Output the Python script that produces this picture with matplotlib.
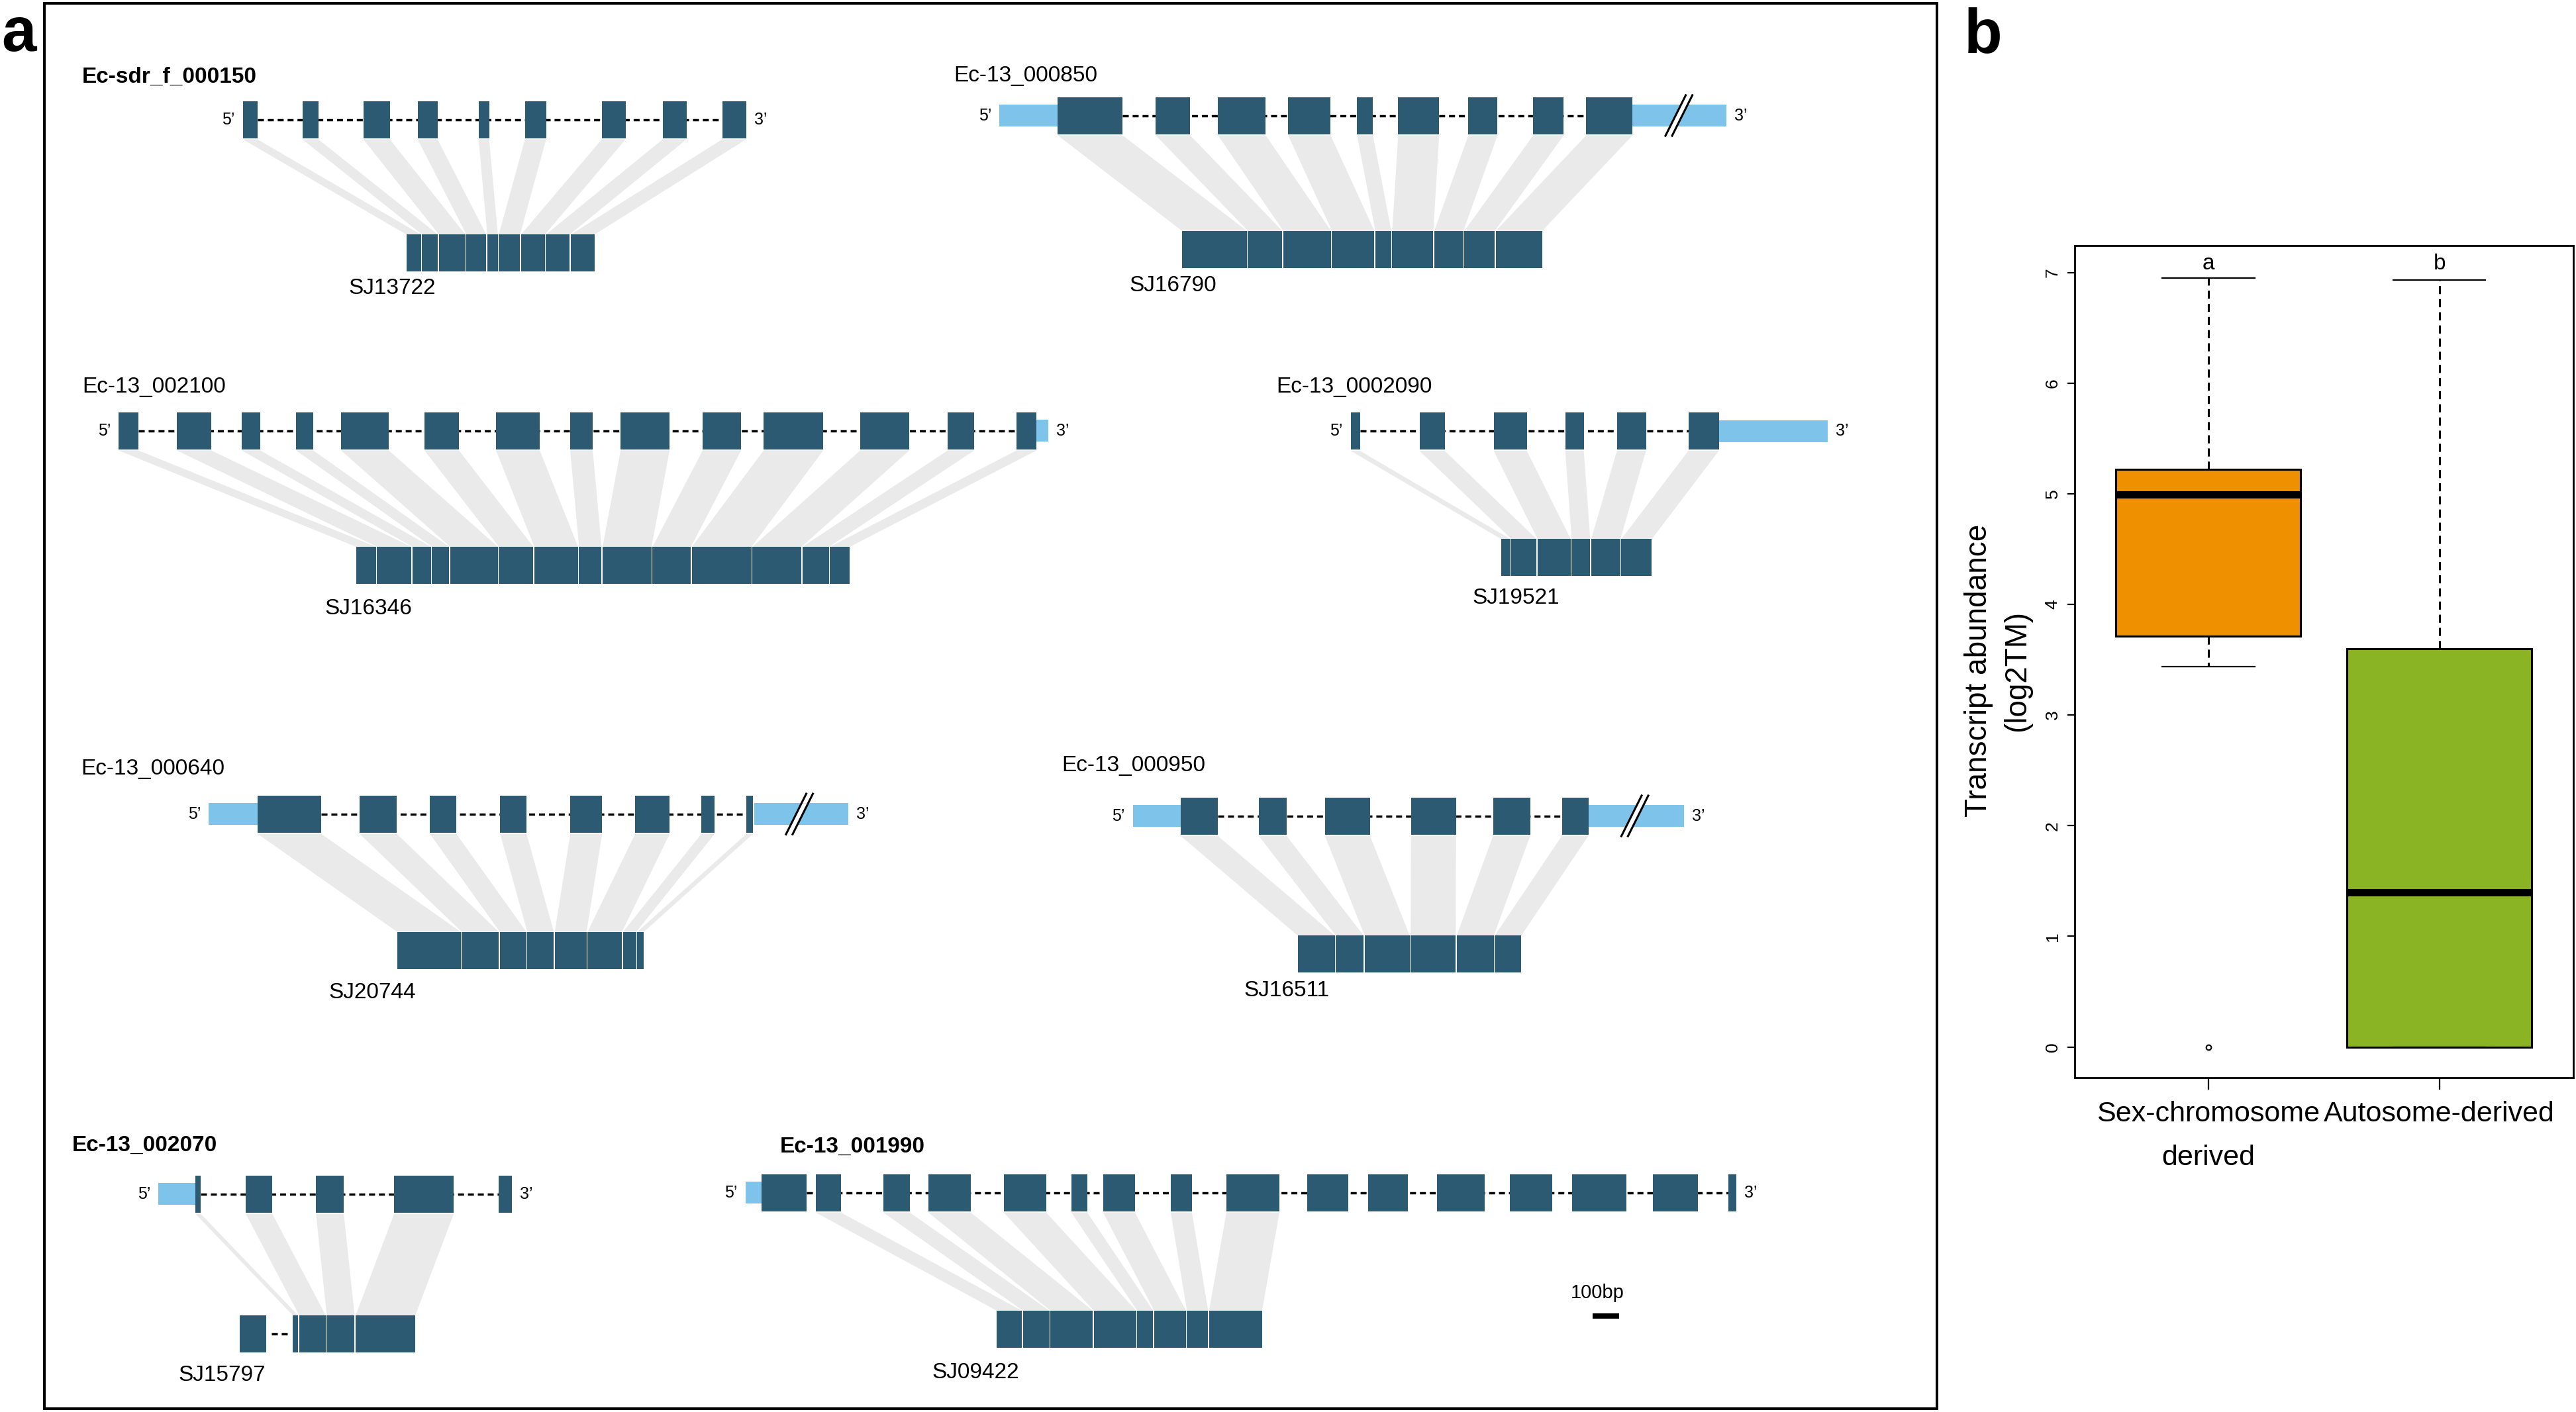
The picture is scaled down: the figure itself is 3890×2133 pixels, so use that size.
import matplotlib
matplotlib.use("Agg")
import matplotlib.pyplot as plt
from matplotlib.patches import Rectangle, Polygon

plt.rcParams['font.family'] = ['Liberation Sans', 'DejaVu Sans']

# --- panel a: gene models, exon coords in bp from first drawn base ---
gene_ids = ["Ec-sdr_f_000150", "Ec-13_000850", "Ec-13_002100", "Ec-13_0002090",
            "Ec-13_000640", "Ec-13_000950", "Ec-13_002070", "Ec-13_001990"]
transcript_ids = ["SJ13722", "SJ16790", "SJ16346", "SJ19521",
                  "SJ20744", "SJ16511", "SJ15797", "SJ09422"]
bold_title = [True, False, False, False, False, False, True, True]

exons_000150 = [(0, 55), (225, 285), (455, 555), (660, 735), (890, 930),
                (1065, 1145), (1355, 1445), (1585, 1675), (1810, 1900)]
exons_000850 = [(220, 465), (590, 720), (825, 1005), (1090, 1250), (1350, 1410),
                (1505, 1660), (1770, 1880), (2015, 2130), (2215, 2390)]
exons_002100 = [(0, 75), (220, 350), (465, 535), (670, 735), (840, 1020),
                (1155, 1285), (1425, 1590), (1705, 1790), (1895, 2080),
                (2205, 2350), (2435, 2660), (2800, 2985), (3130, 3230), (3390, 3465)]
exons_0002090 = [(0, 35), (260, 355), (540, 665), (810, 880), (1005, 1115), (1275, 1390)]
exons_000640 = [(185, 425), (570, 710), (835, 935), (1100, 1200), (1365, 1485),
                (1610, 1740), (1860, 1910), (2030, 2055)]
exons_000950 = [(180, 320), (475, 580), (725, 895), (1050, 1220), (1360, 1500), (1620, 1720)]
exons_002070 = [(140, 160), (330, 430), (595, 700), (890, 1115), (1285, 1335)]
exons_001990 = [(60, 230), (265, 360), (520, 620), (690, 850), (975, 1135),
                (1230, 1290), (1350, 1470), (1605, 1685), (1815, 2015), (2120, 2275),
                (2350, 2500), (2610, 2790), (2885, 3045), (3120, 3325), (3425, 3595),
                (3710, 3740)]
all_exons = [exons_000150, exons_000850, exons_002100, exons_0002090,
             exons_000640, exons_000950, exons_002070, exons_001990]

utr5_bp = [None, (0, 220), None, None, (0, 185), (0, 180), (0, 140), (0, 60)]
utr3_bp = [None, (2390, 2745), (3465, 3510), (1390, 1800), (2060, 2415), (1720, 2080), None, None]
break_bp = [None, 2565, None, None, 2230, 1895, None, None]
# exons found in the transcript (None = all of them)
mapped_exons = [None, None, None, None, None, None, [0, 1, 2, 3], [1, 2, 3, 4, 5, 6, 7, 8]]
# extra transcript block not in the gene model: (block length, gap) in bp
lead_block_bp = [None, None, None, None, None, None, (100, 100), None]
scale_bar_bp = 100

# --- panel b: boxplot stats (log2TM) ---
groups = ["Sex-chromosome\nderived", "Autosome-derived"]
medians = [4.99, 1.40]
q1 = [3.71, 0.0]
q3 = [5.22, 3.60]
whisker_lo = [3.44, 0.0]
whisker_hi = [6.95, 6.93]
outliers = [[0.0], []]
group_letters = ["a", "b"]
box_colors = ["#EE9000", "#8AB423"]

# --- layout (pixels) ---
BP_PER_PX = 2.5
EXON_H, UTR_H, TX_H = 56, 33, 56
TX_GAP = 1.5
EXON_C, UTR_C, LINK_C = "#2C5A73", "#7EC3E9", "#EAEAEA"
gene_x = [366.7, 1509.3, 179.1, 2039.6, 315.2, 1710.7, 239.2, 1125.9]
gene_y = [180.5, 174.5, 650.5, 651, 1229.7, 1232.5, 1803.7, 1801.7]
tx_x = [613.8, 1784.9, 537.9, 2266.9, 599.8, 1959.8, 362.5, 1505.4]
tx_top = [354.3, 348.7, 826, 814.3, 1407.7, 1413.3, 1987.3, 1980]
title_xy = [(123.6, 116), (1440.5, 115), (124.7, 585), (1927, 585),
            (122.3, 1161.7), (1603.6, 1156.7), (108.9, 1730), (1177.9, 1732.7)]
label_xy = [(526, 435), (1705.6, 431.7), (490.5, 920), (2223.8, 903),
            (496.2, 1500), (1878.1, 1496.7), (269, 2078), (1407.8, 2073.3)]

W, H = 3891, 2133
fig = plt.figure(figsize=(W / 100, H / 100), dpi=100)
ax = fig.add_axes([0, 0, 1, 1])
ax.set_xlim(0, W)
ax.set_ylim(H, 0)
ax.axis("off")

ax.add_patch(Rectangle((67, 5), 2858, 2123, fill=False, ec="black", lw=2.9))
ax.text(2, 77, "a", fontsize=68, fontweight="bold", ha="left", va="baseline")
ax.text(2966, 79, "b", fontsize=68, fontweight="bold", ha="left", va="baseline")


def px(k, v):
    return gene_x[k] + v / BP_PER_PX


def dashed(x1, x2, y):
    ax.plot([x1, x2], [y, y], color="black", lw=2.5, dashes=(2.6, 1.7),
            solid_capstyle="butt", dash_capstyle="butt", zorder=2)


for k in range(len(gene_ids)):
    exons = all_exons[k]
    gy = gene_y[k]
    # intron line
    dashed(px(k, exons[0][1]), px(k, exons[-1][0]), gy)
    left = px(k, exons[0][0])
    right = px(k, exons[-1][1])
    for utr in (utr5_bp[k], utr3_bp[k]):
        if utr is None:
            continue
        ax.add_patch(Rectangle((px(k, utr[0]), gy - UTR_H / 2), (utr[1] - utr[0]) / BP_PER_PX,
                               UTR_H, fc=UTR_C, ec="none", zorder=3))
        left = min(left, px(k, utr[0]))
        right = max(right, px(k, utr[1]))
    for s, e in exons:
        ax.add_patch(Rectangle((px(k, s), gy - EXON_H / 2), (e - s) / BP_PER_PX, EXON_H,
                               fc=EXON_C, ec="none", zorder=4))
    if break_bp[k] is not None:
        bx = px(k, break_bp[k])
        h2 = UTR_H / 2
        ax.add_patch(Polygon([(bx + h2 * 0.5 - 5, gy - h2), (bx + h2 * 0.5 + 5, gy - h2),
                              (bx - h2 * 0.5 + 5, gy + h2), (bx - h2 * 0.5 - 5, gy + h2)],
                             fc="white", ec="none", zorder=5))
        for off in (-5, 5):
            ax.plot([bx + 16 + off, bx - 16 + off], [gy - 32, gy + 32], color="black",
                    lw=2.2, zorder=6, solid_capstyle="butt")
    ax.text(left - 12, gy, "5\u2019", fontsize=18, ha="right", va="center")
    ax.text(right + 12, gy, "3\u2019", fontsize=18, ha="left", va="center")

    # transcript
    tx = tx_x[k]
    if lead_block_bp[k] is not None:
        blen, gap = lead_block_bp[k]
        ax.add_patch(Rectangle((tx, tx_top[k]), blen / BP_PER_PX, TX_H, fc=EXON_C, ec="none", zorder=4))
        x_end = tx + blen / BP_PER_PX
        x_next = x_end + gap / BP_PER_PX
        dashed(x_end + 8, x_next - 8, tx_top[k] + TX_H / 2)
        tx = x_next
    idx = mapped_exons[k] if mapped_exons[k] is not None else range(len(exons))
    for i in idx:
        s, e = exons[i]
        w = (e - s) / BP_PER_PX
        ax.add_patch(Rectangle((tx, tx_top[k]), w, TX_H, fc=EXON_C, ec="none", zorder=4))
        ax.add_patch(Polygon([(px(k, s), gy + EXON_H / 2 + 2), (px(k, e), gy + EXON_H / 2 + 2),
                              (tx + w, tx_top[k]), (tx, tx_top[k])],
                             fc=LINK_C, ec="none", zorder=1))
        tx += w + TX_GAP

    ax.text(title_xy[k][0], title_xy[k][1], gene_ids[k], fontsize=24,
            fontweight="bold" if bold_title[k] else "normal", ha="left", va="center")
    ax.text(label_xy[k][0], label_xy[k][1], transcript_ids[k], fontsize=24, ha="left", va="center")

# scale bar
ax.add_patch(Rectangle((2405.3, 1984), scale_bar_bp / BP_PER_PX, 8, fc="black", ec="none"))
ax.text(2412, 1953, "%dbp" % scale_bar_bp, fontsize=21, ha="center", va="center")

# --- panel b ---
axb = fig.add_axes([0.80509, 0.23661, 0.19363, 0.58926])
stats = [dict(med=medians[i], q1=q1[i], q3=q3[i], whislo=whisker_lo[i],
              whishi=whisker_hi[i], fliers=outliers[i]) for i in range(len(groups))]
art = axb.bxp(stats, positions=[1, 2], widths=0.8, capwidths=0.4, patch_artist=True,
              boxprops=dict(lw=2.2, ec="black"),
              medianprops=dict(color="black", lw=8, solid_capstyle="butt"),
              whiskerprops=dict(lw=2.2, ls=(0, (4, 2.5))),
              capprops=dict(lw=1.6),
              flierprops=dict(marker="o", mfc="none", mec="black", ms=5.5, mew=1.5))
for patch, c in zip(art["boxes"], box_colors):
    patch.set_facecolor(c)
for i, letter in enumerate(group_letters):
    axb.text(i + 1, 7.08, letter, fontsize=24, ha="center", va="center")

axb.set_xlim(0.42, 2.58)
axb.set_ylim(-0.28, 7.24)
axb.set_yticks(range(8))
axb.set_xticks([1, 2])
axb.set_xticklabels(groups, fontsize=31, linespacing=1.85)
axb.tick_params(axis="y", length=8, width=1.6, labelsize=19, pad=7)
axb.tick_params(axis="x", length=12.7, width=1.6, pad=12)
for lbl in axb.get_yticklabels():
    lbl.set_rotation(90)
    lbl.set_va("center")
for sp in axb.spines.values():
    sp.set_linewidth(2)
axb.set_ylabel("Transcript abundance\n(log2TM)", fontsize=33, linespacing=1.4)
axb.yaxis.set_label_coords(-0.0857, 0.4895)

fig.savefig("out.png", dpi=100)
